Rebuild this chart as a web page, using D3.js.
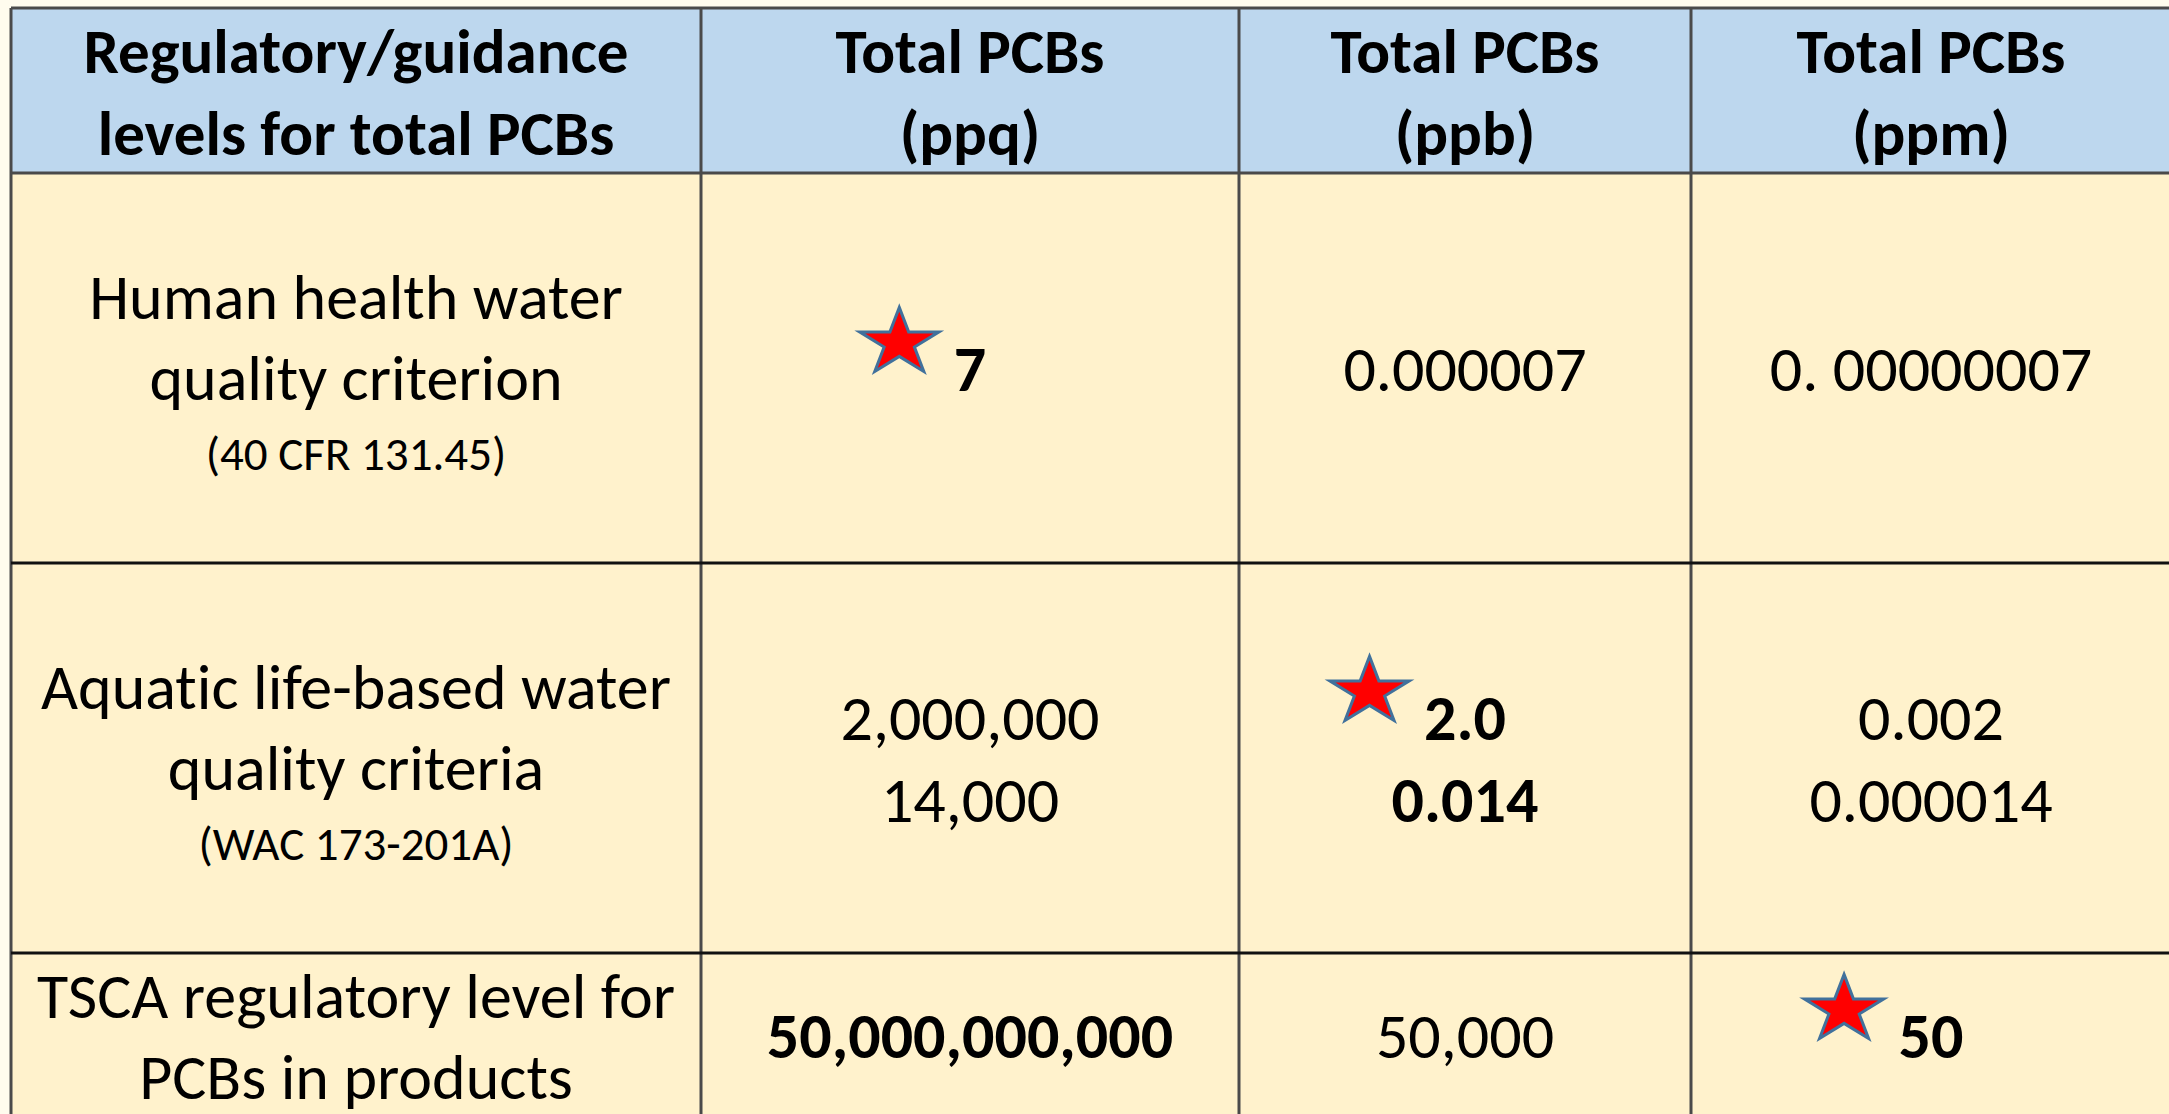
<!DOCTYPE html>
<html>
<head>
<meta charset="utf-8">
<script src="https://cdn.jsdelivr.net/npm/d3@7"></script>
<style>
  html, body { margin: 0; padding: 0; background: #fffcee; overflow: hidden; }
  text { font-family: Carlito, Calibri, Lato, sans-serif; fill: #000; font-variant-ligatures: none; }
</style>
</head>
<body>
<script>
// Table contents
var headers = [
  ["Regulatory/guidance", "levels for total PCBs"],
  ["Total PCBs", "(ppq)"],
  ["Total PCBs", "(ppb)"],
  ["Total PCBs", "(ppm)"]
];
var rowLabels = [
  ["Human health water", "quality criterion"],
  ["Aquatic life-based water", "quality criteria"],
  ["TSCA regulatory level for", "PCBs in products"]
];
var rowRefs = ["(40 CFR 131.45)", "(WAC 173-201A)", ""];
var ppq = [["7"], ["2,000,000", "14,000"], ["50,000,000,000"]];
var ppb = [["0.000007"], ["2.0", "0.014"], ["50,000"]];
var ppm = [["0. 00000007"], ["0.002", "0.000014"], ["50"]];
// which value column is bold in each row, and where the star sits
var boldCols = [[1], [2], [1, 3]];
var starCols = [1, 2, 3];

var width = 2169, height = 1114;

// layout: cell edges
var colEdges = [11, 701, 1239, 1691, 2171];
var rowEdges = [8, 173, 563, 953, 1117];
var x0 = d3.scaleOrdinal().domain([0, 1, 2, 3]).range(colEdges.slice(0, 4));
var x1 = d3.scaleOrdinal().domain([0, 1, 2, 3]).range(colEdges.slice(1));
var y0 = d3.scaleOrdinal().domain([0, 1, 2, 3]).range(rowEdges.slice(0, 4));
var y1 = d3.scaleOrdinal().domain([0, 1, 2, 3]).range(rowEdges.slice(1));
function cx(c) { return (x0(c) + x1(c)) / 2; }
function cy(r) { return (y0(r) + y1(r)) / 2; }

var svg = d3.select("body").append("svg")
  .attr("width", width)
  .attr("height", height);

// cell backgrounds
var cells = [];
for (var r = 0; r < 4; r++) for (var c = 0; c < 4; c++) cells.push({ r: r, c: c });
svg.selectAll("rect.cell")
  .data(cells)
  .enter().append("rect")
    .attr("class", "cell")
    .attr("x", function (d) { return x0(d.c); })
    .attr("y", function (d) { return y0(d.r); })
    .attr("width", function (d) { return x1(d.c) - x0(d.c); })
    .attr("height", function (d) { return y1(d.r) - y0(d.r); })
    .attr("fill", function (d) { return d.r === 0 ? "#bdd7ee" : "#fff2cc"; });

// grid lines
svg.selectAll("line.v")
  .data(colEdges)
  .enter().append("line")
    .attr("x1", function (d) { return d; })
    .attr("x2", function (d) { return d; })
    .attr("y1", rowEdges[0])
    .attr("y2", rowEdges[4])
    .attr("stroke", "#4a4a4a")
    .attr("stroke-width", 3);
svg.selectAll("line.h")
  .data(rowEdges)
  .enter().append("line")
    .attr("x1", colEdges[0])
    .attr("x2", colEdges[4])
    .attr("y1", function (d) { return d; })
    .attr("y2", function (d) { return d; })
    .attr("stroke", function (d, i) { return i < 2 ? "#4a4a4a" : "#111"; })
    .attr("stroke-width", 3);

var bodySize = 64, capBody = 23, lineGap = 82;

// header text
headers.forEach(function (lines, c) {
  svg.selectAll(null)
    .data(lines)
    .enter().append("text")
      .attr("x", cx(c))
      .attr("y", function (d, i) { return 73 + i * 82; })
      .attr("text-anchor", "middle")
      .style("font-size", "63px")
      .style("font-weight", "bold")
      .text(function (d) { return d; });
});

// row label column
rowLabels.forEach(function (lines, i) {
  var r = i + 1;
  var hasRef = rowRefs[i] !== "";
  var n = lines.length;
  var span = (n - 1) * 81 + (hasRef ? 76 : 0);
  var first = cy(r) - span / 2 + (hasRef ? 6 : 0);
  svg.selectAll(null)
    .data(lines)
    .enter().append("text")
      .attr("x", cx(0))
      .attr("y", function (d, k) { return first + k * 81 + capBody; })
      .attr("text-anchor", "middle")
      .style("font-size", bodySize + "px")
      .text(function (d) { return d; });
  if (hasRef) {
    svg.append("text")
      .attr("x", cx(0))
      .attr("y", first + (n - 1) * 81 + 76 + 17)
      .attr("text-anchor", "middle")
      .style("font-size", "47px")
      .text(rowRefs[i]);
  }
});

// value columns
var valueCols = [ppq, ppb, ppm];
var star = d3.symbol().type(d3.symbolStar).size(1950);
var starR = Math.sqrt(1950 / 0.8908130915292852);
var squash = 0.85;

valueCols.forEach(function (col, j) {
  var c = j + 1;
  col.forEach(function (lines, i) {
    var r = i + 1;
    var bold = boldCols[i].indexOf(c) >= 0;
    var first = cy(r) - (lines.length - 1) * lineGap / 2;
    var t = svg.selectAll(null)
      .data(lines)
      .enter().append("text")
        .attr("x", cx(c))
        .attr("y", function (d, k) { return first + k * lineGap + capBody; })
        .attr("text-anchor", "middle")
        .style("font-size", bodySize + "px")
        .style("font-weight", bold ? "bold" : "normal")
        .text(function (d) { return d; });

    if (starCols[i] === c) {
      var node = t.node();
      var left = cx(c) - node.getComputedTextLength() / 2;
      var base = first + capBody;
      var right = left - 10;
      var bottom = base - 16;
      var sx = right - starR * Math.sin(2 * Math.PI / 5);
      var sy = bottom - starR * Math.cos(Math.PI / 5) * squash;
      svg.append("path")
        .attr("d", star())
        .attr("transform", "translate(" + sx + "," + sy + ") scale(1," + squash + ")")
        .attr("fill", "#ff0000")
        .attr("stroke", "#41719c")
        .attr("stroke-width", 3)
        .attr("vector-effect", "non-scaling-stroke");
    }
  });
});
</script>
</body>
</html>
